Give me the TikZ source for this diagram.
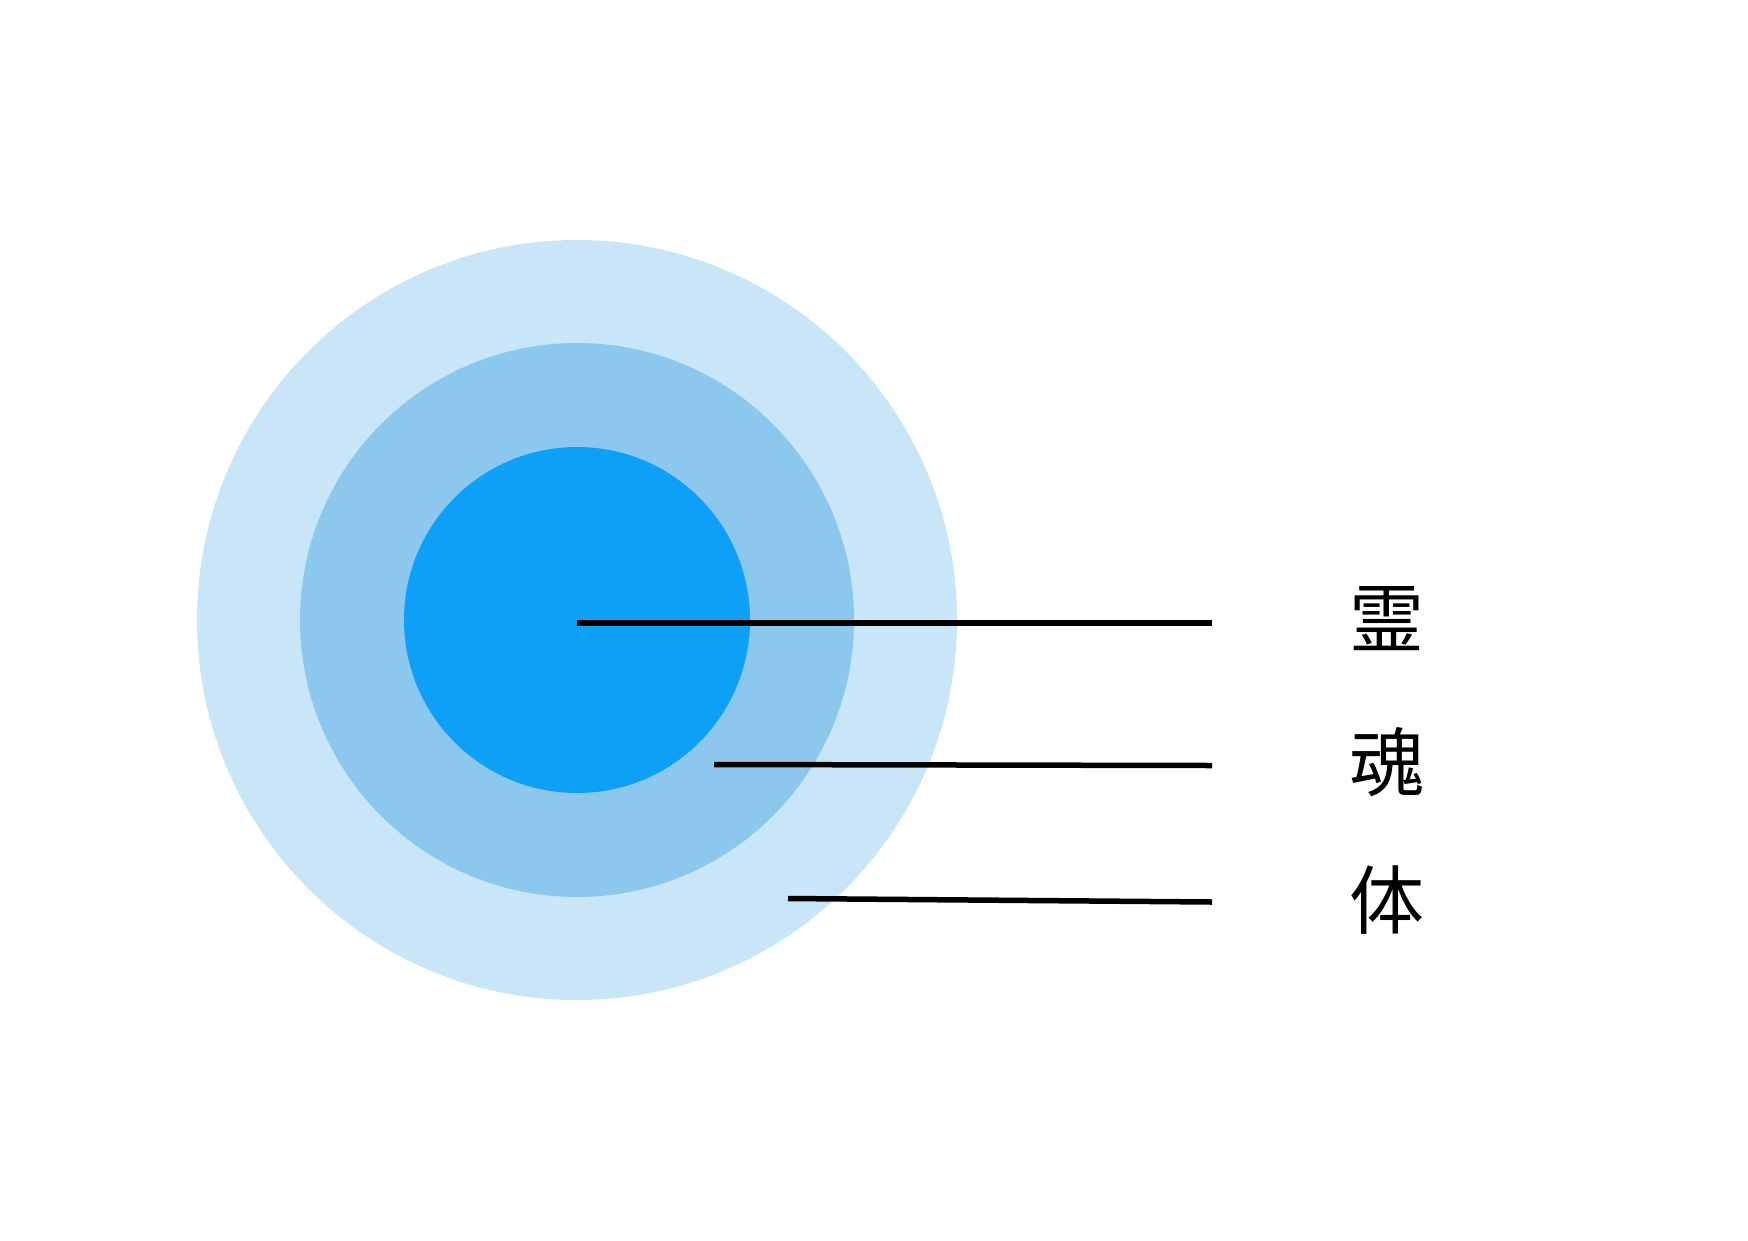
\documentclass[tikz,border=0pt]{standalone}
\usepackage{fontspec}
\newfontfamily\cjk{Noto Sans CJK JP}
\definecolor{outerc}{HTML}{C9E6F8}
\definecolor{midc}{HTML}{8CC8ED}
\definecolor{innerc}{HTML}{0EA0F7}
\begin{document}
\begin{tikzpicture}[x=1pt,y=-1pt,
  leader/.style={line width=5.5pt,black},
  lbl/.style={font=\cjk\fontsize{75}{75}\selectfont,inner sep=0pt}]
\useasboundingbox (0,0) rectangle (1748,1240);
\fill[outerc] (577,620) circle[radius=380];
\fill[midc] (577,620) circle[radius=277];
\fill[innerc] (577,620) circle[radius=173];
\coordinate (c) at (577,623);
\coordinate (s1) at (714,764.5);
\coordinate (s2) at (788,898.5);
\coordinate (e0) at (1212,623);
\coordinate (e1) at (1212,765.5);
\coordinate (e2) at (1212,902);
\draw[leader] (c) -- (e0);
\draw[leader] (s1) -- (e1);
\draw[leader] (s2) -- (e2);
\node[lbl] (t0) at (1387,619) {霊};
\node[lbl] (t1) at (1387,762) {魂};
\node[lbl] (t2) at (1387,900) {体};
\end{tikzpicture}
\end{document}
